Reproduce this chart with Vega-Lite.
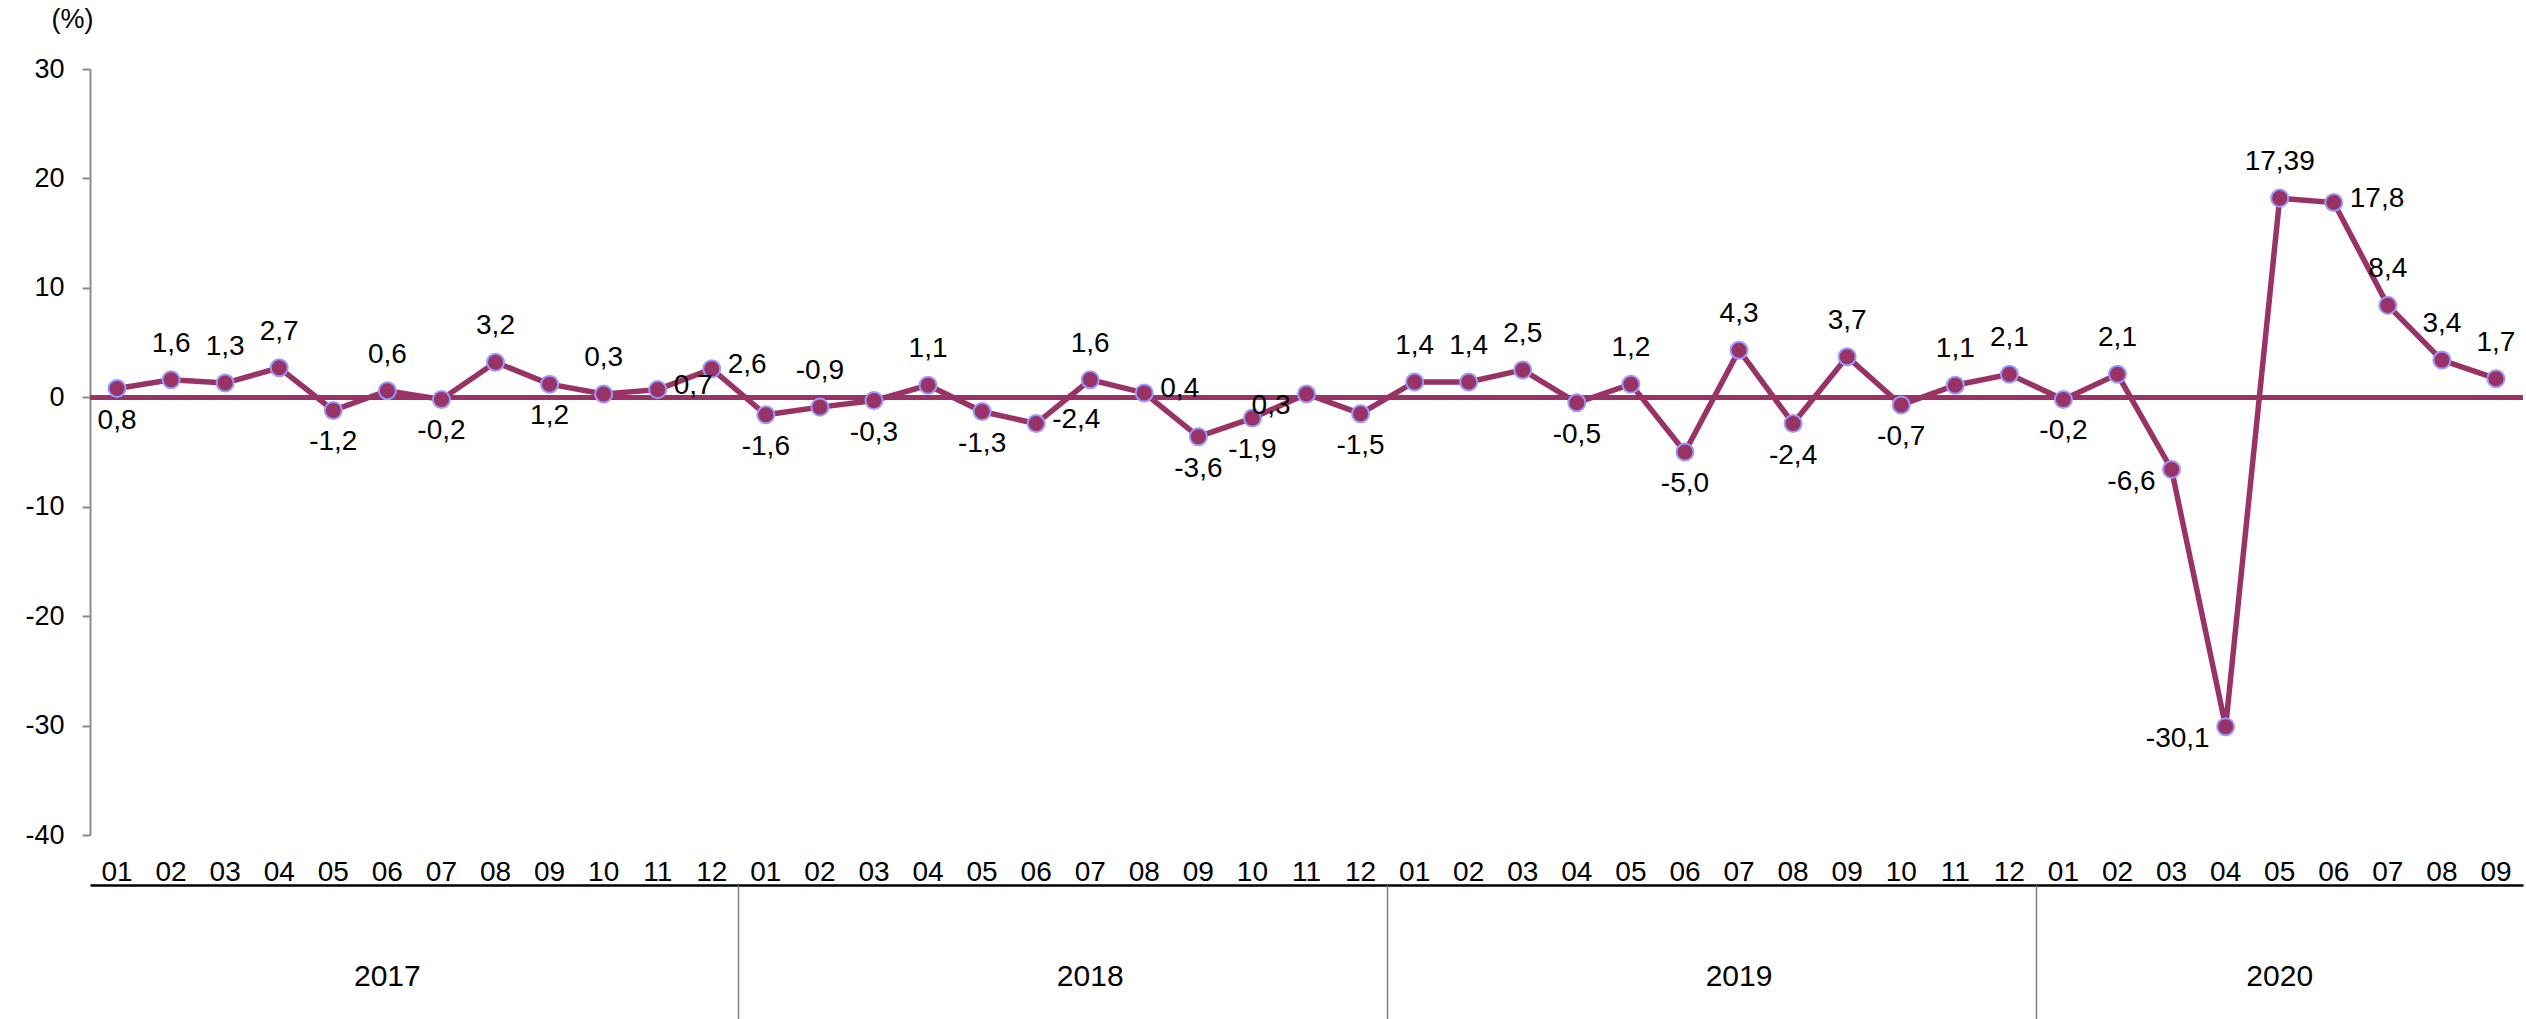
{
  "$schema": "https://vega.github.io/schema/vega-lite/v6.json",
  "autosize": {"type": "none"},
  "width": 2433,
  "height": 766,
  "padding": {"left": 90, "top": 69, "right": 3, "bottom": 184},
  "background": "white",
  "config": {
    "view": {"stroke": null},
    "font": "Liberation Sans",
    "axis": {"labelFont": "Liberation Sans", "titleFont": "Liberation Sans", "labelColor": "#000000", "grid": false}
  },
  "data": {
    "values": [
      {"month": "2017-01", "value": 0.8, "label": "0,8", "labelPos": "below"},
      {"month": "2017-02", "value": 1.6, "label": "1,6", "labelPos": "above"},
      {"month": "2017-03", "value": 1.3, "label": "1,3", "labelPos": "above"},
      {"month": "2017-04", "value": 2.7, "label": "2,7", "labelPos": "above"},
      {"month": "2017-05", "value": -1.2, "label": "-1,2", "labelPos": "below"},
      {"month": "2017-06", "value": 0.6, "label": "0,6", "labelPos": "above"},
      {"month": "2017-07", "value": -0.2, "label": "-0,2", "labelPos": "below"},
      {"month": "2017-08", "value": 3.2, "label": "3,2", "labelPos": "above"},
      {"month": "2017-09", "value": 1.2, "label": "1,2", "labelPos": "below"},
      {"month": "2017-10", "value": 0.3, "label": "0,3", "labelPos": "above"},
      {"month": "2017-11", "value": 0.7, "label": "0,7", "labelPos": "right"},
      {"month": "2017-12", "value": 2.6, "label": "2,6", "labelPos": "right"},
      {"month": "2018-01", "value": -1.6, "label": "-1,6", "labelPos": "below"},
      {"month": "2018-02", "value": -0.9, "label": "-0,9", "labelPos": "above"},
      {"month": "2018-03", "value": -0.3, "label": "-0,3", "labelPos": "below"},
      {"month": "2018-04", "value": 1.1, "label": "1,1", "labelPos": "above"},
      {"month": "2018-05", "value": -1.3, "label": "-1,3", "labelPos": "below"},
      {"month": "2018-06", "value": -2.4, "label": "-2,4", "labelPos": "right"},
      {"month": "2018-07", "value": 1.6, "label": "1,6", "labelPos": "above"},
      {"month": "2018-08", "value": 0.4, "label": "0,4", "labelPos": "right"},
      {"month": "2018-09", "value": -3.6, "label": "-3,6", "labelPos": "below"},
      {"month": "2018-10", "value": -1.9, "label": "-1,9", "labelPos": "below"},
      {"month": "2018-11", "value": 0.3, "label": "0,3", "labelPos": "left"},
      {"month": "2018-12", "value": -1.5, "label": "-1,5", "labelPos": "below"},
      {"month": "2019-01", "value": 1.4, "label": "1,4", "labelPos": "above"},
      {"month": "2019-02", "value": 1.4, "label": "1,4", "labelPos": "above"},
      {"month": "2019-03", "value": 2.5, "label": "2,5", "labelPos": "above"},
      {"month": "2019-04", "value": -0.5, "label": "-0,5", "labelPos": "below"},
      {"month": "2019-05", "value": 1.2, "label": "1,2", "labelPos": "above"},
      {"month": "2019-06", "value": -5.0, "label": "-5,0", "labelPos": "below"},
      {"month": "2019-07", "value": 4.3, "label": "4,3", "labelPos": "above"},
      {"month": "2019-08", "value": -2.4, "label": "-2,4", "labelPos": "below"},
      {"month": "2019-09", "value": 3.7, "label": "3,7", "labelPos": "above"},
      {"month": "2019-10", "value": -0.7, "label": "-0,7", "labelPos": "below"},
      {"month": "2019-11", "value": 1.1, "label": "1,1", "labelPos": "above"},
      {"month": "2019-12", "value": 2.1, "label": "2,1", "labelPos": "above"},
      {"month": "2020-01", "value": -0.2, "label": "-0,2", "labelPos": "below"},
      {"month": "2020-02", "value": 2.1, "label": "2,1", "labelPos": "above"},
      {"month": "2020-03", "value": -6.6, "label": "-6,6", "labelPos": "left"},
      {"month": "2020-04", "value": -30.1, "label": "-30,1", "labelPos": "left"},
      {"month": "2020-05", "value": 18.2, "label": "17,39", "labelPos": "above"},
      {"month": "2020-06", "value": 17.8, "label": "17,8", "labelPos": "right"},
      {"month": "2020-07", "value": 8.4, "label": "8,4", "labelPos": "above"},
      {"month": "2020-08", "value": 3.4, "label": "3,4", "labelPos": "above"},
      {"month": "2020-09", "value": 1.7, "label": "1,7", "labelPos": "above"}
    ]
  },
  "resolve": {"scale": {"x": "shared", "y": "shared"}, "axis": {"x": "independent"}},
  "layer": [
    {
      "mark": {"type": "rule", "color": "#993366", "strokeWidth": 4.5},
      "encoding": {
        "y": {"datum": 0, "type": "quantitative", "scale": {"domain": [-40, 30], "nice": false, "zero": false}}
      }
    },
    {
      "mark": {"type": "line", "color": "#993366", "strokeWidth": 5.5},
      "encoding": {
        "x": {
          "field": "month", "type": "ordinal", "sort": null,
          "scale": {"type": "band", "paddingInner": 0, "paddingOuter": 0},
          "axis": {
            "orient": "bottom", "offset": 50, "title": null,
            "domain": true, "domainColor": "#000000", "domainWidth": 2.5,
            "ticks": true, "tickSize": 0, "tickOpacity": 0,
            "labelExpr": "slice(datum.value, 5)",
            "labelFontSize": 28, "labelBaseline": "alphabetic", "labelPadding": -5,
            "labelAngle": 0, "labelOverlap": false, "labelBound": false, "labelFlush": false,
            "bandPosition": 0.5
          }
        },
        "y": {
          "field": "value", "type": "quantitative",
          "scale": {"domain": [-40, 30], "nice": false, "zero": false},
          "axis": {
            "values": [-40, -30, -20, -10, 0, 10, 20, 30],
            "labelExpr": "toString(datum.value)",
            "domainColor": "#8c8c8c", "domainWidth": 2,
            "tickColor": "#8c8c8c", "tickWidth": 2, "tickSize": 8,
            "labelFontSize": 27, "labelPadding": 18,
            "title": "(%)", "titleAngle": 0, "titleFontSize": 27, "titleFontWeight": "normal",
            "titleAlign": "center", "titleBaseline": "middle", "titleX": -18, "titleY": -50, "titleColor": "#000000"
          }
        }
      }
    },
    {
      "mark": {"type": "point", "shape": "circle", "filled": true, "fill": "#993366", "stroke": "#9999ff", "strokeWidth": 2, "opacity": 1, "size": 290},
      "encoding": {
        "x": {
          "field": "month", "type": "ordinal", "sort": null,
          "scale": {"type": "band", "paddingInner": 0, "paddingOuter": 0},
          "axis": {
            "orient": "bottom", "offset": 50, "title": null,
            "values": ["2018-01", "2019-01", "2020-01"],
            "bandPosition": 0, "domain": false, "labels": false,
            "ticks": true, "tickSize": 134, "tickColor": "#808080", "tickWidth": 1.5
          }
        },
        "y": {"field": "value", "type": "quantitative", "scale": {"domain": [-40, 30], "nice": false, "zero": false}}
      }
    },
    {
      "transform": [{"filter": "datum.labelPos === 'above'"}],
      "mark": {"type": "text", "fontSize": 28, "font": "Liberation Sans", "color": "#000000", "dy": -36, "baseline": "middle", "align": "center"},
      "encoding": {
        "x": {
          "field": "month", "type": "ordinal", "sort": null,
          "scale": {"type": "band", "paddingInner": 0, "paddingOuter": 0},
          "axis": {
            "orient": "bottom", "offset": 50, "title": null,
            "values": ["2018-07", "2019-07", "2020-05"],
            "bandPosition": 0.5, "domain": false,
            "ticks": true, "tickSize": 0, "tickOpacity": 0,
            "labelExpr": "slice(datum.value, 0, 4)",
            "labelFontSize": 30, "labelBaseline": "middle", "labelPadding": 91,
            "labelAngle": 0, "labelOverlap": false, "labelBound": false, "labelFlush": false
          }
        },
        "y": {"field": "value", "type": "quantitative", "scale": {"domain": [-40, 30], "nice": false, "zero": false}},
        "text": {"field": "label", "type": "nominal"}
      }
    },
    {
      "transform": [{"filter": "datum.labelPos === 'below'"}],
      "mark": {"type": "text", "fontSize": 28, "font": "Liberation Sans", "color": "#000000", "dy": 32, "baseline": "middle", "align": "center"},
      "encoding": {
        "x": {
          "field": "month", "type": "ordinal", "sort": null,
          "scale": {"type": "band", "paddingInner": 0, "paddingOuter": 0},
          "axis": {
            "orient": "bottom", "offset": 50, "title": null,
            "values": ["2017-06"],
            "bandPosition": 0, "domain": false,
            "ticks": true, "tickSize": 0, "tickOpacity": 0,
            "labelExpr": "slice(datum.value, 0, 4)",
            "labelFontSize": 30, "labelBaseline": "middle", "labelPadding": 91,
            "labelAngle": 0, "labelOverlap": false, "labelBound": false, "labelFlush": false
          }
        },
        "y": {"field": "value", "type": "quantitative", "scale": {"domain": [-40, 30], "nice": false, "zero": false}},
        "text": {"field": "label", "type": "nominal"}
      }
    },
    {
      "transform": [{"filter": "datum.labelPos === 'left'"}],
      "mark": {"type": "text", "fontSize": 28, "font": "Liberation Sans", "color": "#000000", "dx": -16, "dy": 12, "baseline": "middle", "align": "right"},
      "encoding": {
        "x": {
          "field": "month", "type": "ordinal", "sort": null,
          "scale": {"type": "band", "paddingInner": 0, "paddingOuter": 0},
          "axis": null
        },
        "y": {"field": "value", "type": "quantitative", "scale": {"domain": [-40, 30], "nice": false, "zero": false}},
        "text": {"field": "label", "type": "nominal"}
      }
    },
    {
      "transform": [{"filter": "datum.labelPos === 'right'"}],
      "mark": {"type": "text", "fontSize": 28, "font": "Liberation Sans", "color": "#000000", "dx": 16, "dy": -4, "baseline": "middle", "align": "left"},
      "encoding": {
        "x": {
          "field": "month", "type": "ordinal", "sort": null,
          "scale": {"type": "band", "paddingInner": 0, "paddingOuter": 0},
          "axis": null
        },
        "y": {"field": "value", "type": "quantitative", "scale": {"domain": [-40, 30], "nice": false, "zero": false}},
        "text": {"field": "label", "type": "nominal"}
      }
    }
  ]
}
